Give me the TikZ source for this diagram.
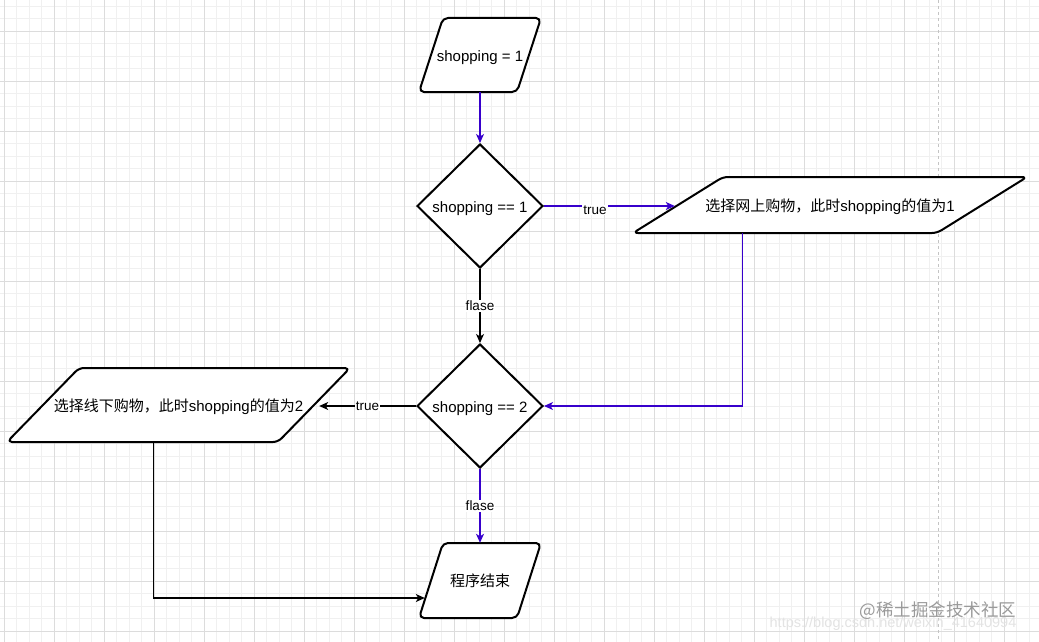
\documentclass[tikz,border=0pt]{standalone}
\usepackage{fontspec}
\setmainfont{Liberation Sans}
\newfontfamily\cjk{Noto Sans CJK SC}
\usetikzlibrary{arrows.meta,calc,shapes.geometric}
\definecolor{conn}{HTML}{3700CC}
\definecolor{gminor}{HTML}{F0F0F0}
\definecolor{gmajor}{HTML}{DCDCDC}
\definecolor{pageline}{HTML}{C4C4C4}
\definecolor{wmgray}{HTML}{9A9A9A}
\tikzset{
  shp/.style={draw=black, line width=2pt, fill=white, rounded corners=5pt, line join=round},
  ptext/.style={inner sep=0pt, text height=12.5pt, text depth=0pt, font=\fontsize{15}{18}\selectfont},
  dec/.style={diamond, draw=black, line width=2pt, fill=white, minimum width=126pt, minimum height=124pt, inner sep=0pt, text height=12.5pt, text depth=0pt, font=\fontsize{15}{18}\selectfont},
  link/.style={line width=1.2pt, -{Stealth[length=9pt,width=8pt,inset=2.5pt]}},
  plink/.style={link, draw=conn},
  blink/.style={link, draw=black},
  lbl/.style={fill=white, inner sep=1pt, font=\fontsize{13.5}{15}\selectfont},
  gridminor/.style={draw=gminor, line width=0.8pt},
  gridmajor/.style={draw=gmajor, line width=0.8pt},
}
% #1 name, #2 cx, #3 cy, #4 width, #5 height, #6 slant, #7 text
\newcommand{\paral}[7]{%
  \draw[shp] ($(#2,#3)+(-#4/2+#6,-#5/2)$) -- ($(#2,#3)+(#4/2,-#5/2)$) -- ($(#2,#3)+(#4/2-#6,#5/2)$) -- ($(#2,#3)+(-#4/2,#5/2)$) -- cycle;
  \node[ptext, minimum width=#4pt, minimum height=#5pt] (#1) at (#2,#3) {#7};%
}
\begin{document}
\begin{tikzpicture}[x=1pt,y=-1pt]
\useasboundingbox (0,0) rectangle (1039,642);
\fill[white] (0,0) rectangle (1039,642);
% grid
\foreach \x in {4,16.5,...,1039} \draw[gridminor] (\x,0) -- (\x,642);
\foreach \y in {6,18.5,...,642} \draw[gridminor] (0,\y) -- (1039,\y);
\foreach \x in {4,54,...,1039} \draw[gridmajor] (\x,0) -- (\x,642);
\foreach \y in {31,81,...,642} \draw[gridmajor] (0,\y) -- (1039,\y);
% page break line
\draw[pageline, line width=1pt, dash pattern=on 3pt off 3pt] (938,0) -- (938,642);

% shapes
\paral{s1}{480}{55}{122}{74}{24}{shopping = 1}
\node[dec] (d1) at (480,206) {shopping == 1};
\paral{p1}{830}{205}{394}{56}{90}{{\cjk 选择网上购物，此时}shopping{\cjk 的值为}1}
\node[dec] (d2) at (480,406) {shopping == 2};
\paral{p2}{178.5}{405}{343}{74}{72}{{\cjk 选择线下购物，此时}shopping{\cjk 的值为}2}
\paral{e}{480}{580.5}{122}{75}{24}{{\cjk 程序结束}}

% connectors
\coordinate (p1in) at ($(p1.west)+(42,0)$);
\coordinate (p1out) at ($(p1.south west)+(110,0)$);
\coordinate (p2in) at ($(p2.east)+(-31,0)$);
\coordinate (p2out) at ($(p2.south west)+(147,0)$);
\coordinate (ein) at ($(e.west)+(6,17.5)$);

\draw[plink] (s1.south) -- (d1.north);
\draw[plink] (d1.east) -- node[lbl, pos=0.39, yshift=-4pt] {true} (d1.east -| p1in);
\draw[plink] (p1out) |- (d2.east);
\draw[blink] (d1.south) -- node[lbl] {flase} (d2.north);
\draw[blink] (d2.west) -- node[lbl] {true} (d2.west -| p2in);
\draw[blink] (p2out) |- (ein);
\draw[plink] (d2.south) -- node[lbl] {flase} (e.north);

% watermark
\node[text=gray!22, font=\fontsize{14.5}{16}\selectfont, inner sep=0pt] (url) at (893,624) {https://blog.csdn.net/weixin\_41640994};
\node[text=wmgray, font=\cjk\fontsize{17.5}{19}\selectfont, inner sep=0pt] (wm) at (938,611) {@稀土掘金技术社区};
\end{tikzpicture}
\end{document}
